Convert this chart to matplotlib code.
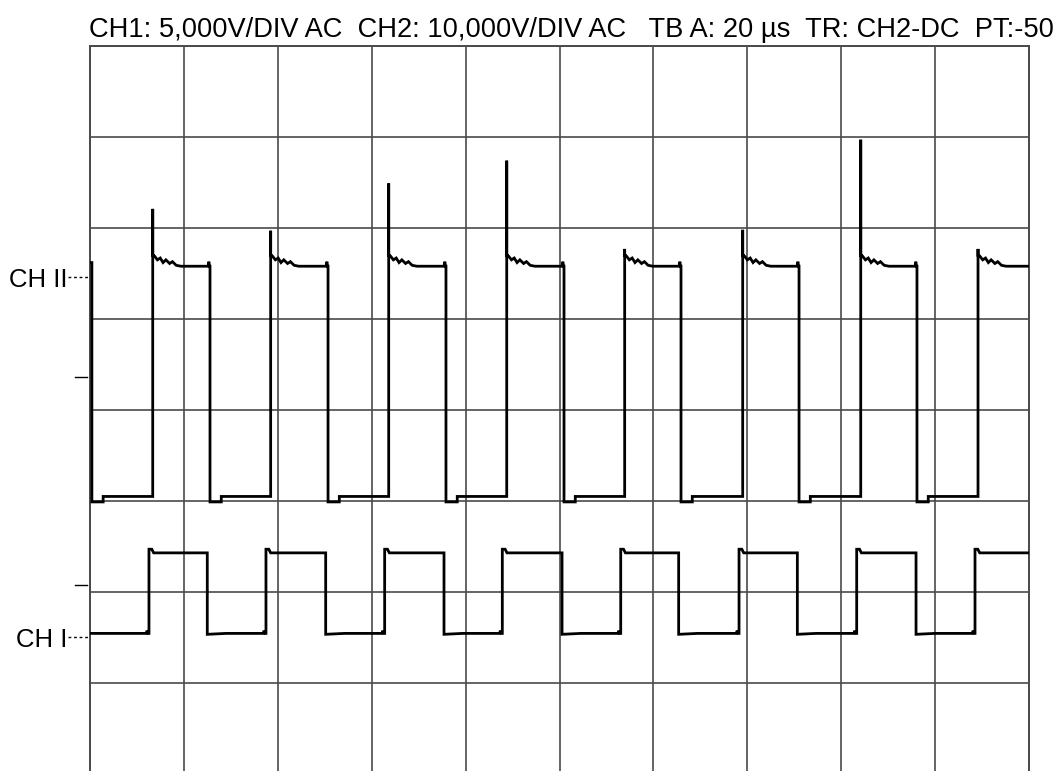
import matplotlib
matplotlib.use("Agg")
import matplotlib.pyplot as plt

# =========================
# DATA (x in divisions of 20 us, y in divisions, 0 = bottom of grid)
# =========================
TITLE = "CH1: 5,000V/DIV AC  CH2: 10,000V/DIV AC   TB A: 20 µs  TR: CH2-DC  PT:-50"

# CH2 (upper trace)
CH2_START = 5.62
CH2_FALL = [0.02, 1.278, 2.535, 3.791, 5.048, 6.294, 7.551, 8.807]
CH2_RISE = [0.668, 1.924, 3.181, 4.438, 5.694, 6.951, 8.208, 9.457]
CH2_SPIKE = [6.21, 5.97, 6.49, 6.74, 5.77, 5.98, 6.97, 5.77]
CH2_HIGH = 5.58
CH2_LOW_DIP = 2.99
CH2_LOW = 3.05
CH2_RIPPLE_DX = [0.02, 0.05, 0.08, 0.11, 0.14, 0.18, 0.21, 0.25, 0.30]
CH2_RIPPLE_DY = [0.11, 0.07, 0.09, 0.04, 0.07, 0.03, 0.05, 0.01, 0.0]

# CH1 (lower trace)
CH1_RISE = [0.628, 1.874, 3.138, 4.391, 5.652, 6.912, 8.165, 9.425]
CH1_FALL = [1.249, 2.510, 3.770, 5.027, 6.269, 7.533, 8.797]
CH1_HIGH = 2.43
CH1_OVER = 2.47
CH1_LOW = 1.545

# channel markers on the left
CH_LABELS = ["CH II", "CH I"]
CH_LABEL_Y = [5.46, 1.51]
TICK_MARK_Y = [4.36, 2.08]


def build_ch2():
    xs, ys = [0.0], [CH2_START]
    for i, f in enumerate(CH2_FALL):
        r = CH2_RISE[i]
        if i > 0:
            # flat top, tiny kick just before the edge
            xs += [f - 0.02, f - 0.012, f - 0.006]
            ys += [CH2_HIGH, CH2_HIGH + 0.05, CH2_HIGH]
        xs += [f, f, f + 0.12, f + 0.12, r]
        ys += [ys[-1], CH2_LOW_DIP, CH2_LOW_DIP, CH2_LOW, CH2_LOW]
        xs += [r, r, r + 0.01]
        ys += [CH2_SPIKE[i], CH2_HIGH + 0.12, CH2_HIGH + 0.12]
        for dx, dy in zip(CH2_RIPPLE_DX, CH2_RIPPLE_DY):
            xs.append(r + dx)
            ys.append(CH2_HIGH + dy)
    xs.append(10.0)
    ys.append(CH2_HIGH)
    return xs, ys


def build_ch1():
    xs, ys = [0.0], [CH1_LOW]
    for i, r in enumerate(CH1_RISE):
        xs += [r - 0.03, r - 0.02, r - 0.01, r, r, r + 0.03, r + 0.05]
        ys += [CH1_LOW, CH1_LOW + 0.03, CH1_LOW, CH1_LOW, CH1_OVER, CH1_OVER, CH1_HIGH]
        if i < len(CH1_FALL):
            f = CH1_FALL[i]
            xs += [f, f, f + 0.2]
            ys += [CH1_HIGH, CH1_LOW - 0.01, CH1_LOW]
    xs.append(10.0)
    ys.append(CH1_HIGH)
    return xs, ys


def main():
    W, H = 1059, 771
    fig = plt.figure(figsize=(W / 100, H / 100), dpi=100)
    fig.patch.set_facecolor("white")
    plt.rcParams["font.family"] = ["Liberation Sans", "DejaVu Sans"]

    left, right, top, bottom = 90, 1029, 46, 774
    ax = fig.add_axes([left / W, 1 - bottom / H, (right - left) / W, (bottom - top) / H])
    ax.set_xlim(0, 10)
    ax.set_ylim(0, 8)

    grid_col = "#4a4a4a"
    ax.set_xticks(range(11))
    ax.set_yticks(range(9))
    ax.grid(True, color=grid_col, lw=1.2)
    ax.tick_params(length=0, labelleft=False, labelbottom=False)
    for sp in ax.spines.values():
        sp.set_color(grid_col)
        sp.set_linewidth(1.4)

    x2, y2 = build_ch2()
    x1, y1 = build_ch1()
    ax.plot(x2, y2, color="black", lw=2.0, solid_joinstyle="miter", zorder=3)
    ax.plot(x1, y1, color="black", lw=2.0, solid_joinstyle="miter", zorder=3)

    # channel labels with dotted leaders
    for lab, yv in zip(CH_LABELS, CH_LABEL_Y):
        ax.plot([-0.23, 0], [yv, yv], color="black", lw=1.0,
                linestyle=(0, (2, 2)), clip_on=False)
        ax.text(-0.24, yv - 0.11, lab, ha="right", va="baseline",
                fontsize=18.5, color="black", clip_on=False)
    for yv in TICK_MARK_Y:
        ax.plot([-0.16, -0.03], [yv, yv], color="black", lw=1.0, clip_on=False)

    fig.text(89 / W, 1 - 37 / H, TITLE, ha="left", va="baseline",
             fontsize=19.6, color="black")

    fig.savefig("out.png", dpi=100, facecolor="white")
    plt.close(fig)


if __name__ == "__main__":
    main()
